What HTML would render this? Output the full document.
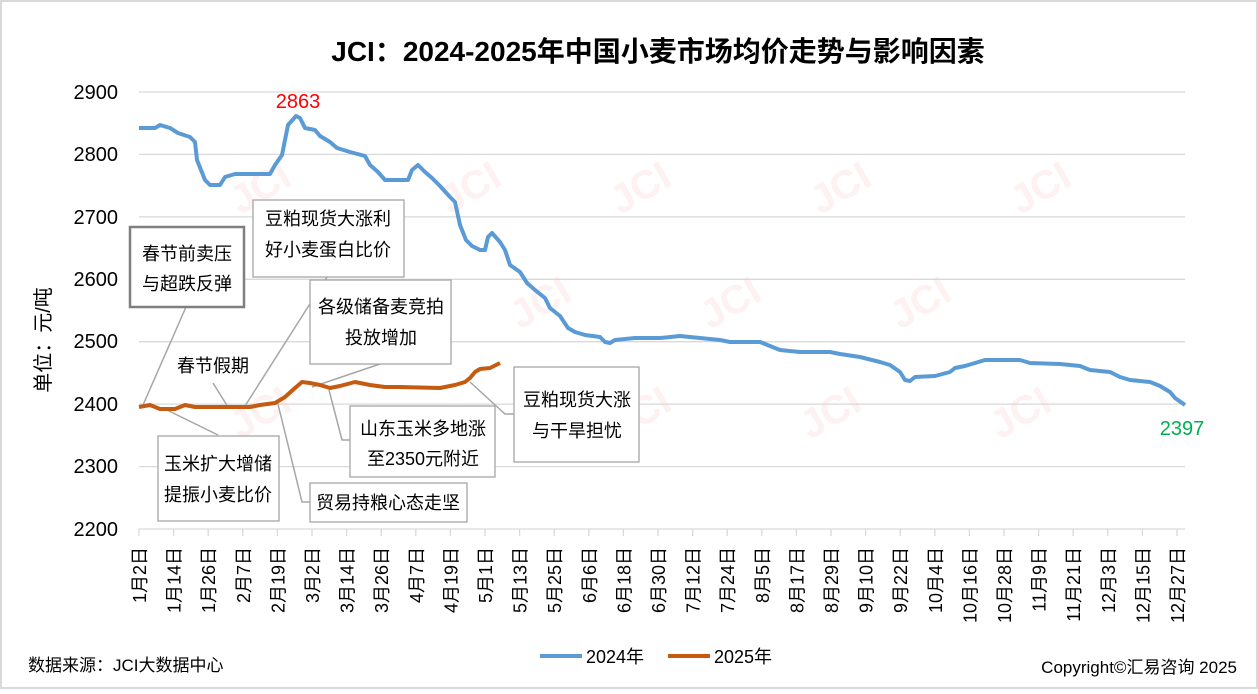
<!DOCTYPE html>
<html><head><meta charset="utf-8"><style>
body{margin:0;background:#fff}
svg text{font-family:"Liberation Sans","Noto Sans CJK SC",sans-serif}
</style></head><body>
<svg width="1258" height="689" viewBox="0 0 1258 689" xmlns="http://www.w3.org/2000/svg">
<rect x="1" y="1" width="1256" height="687" fill="#fff" stroke="#d9d9d9" stroke-width="2"/>
<text x="658" y="61" font-size="28" font-weight="bold" text-anchor="middle" fill="#000">JCI：2024-2025年中国小麦市场均价走势与影响因素</text>
<g stroke="#d9d9d9" stroke-width="1.3">
<line x1="139" x2="1185" y1="92" y2="92"/><line x1="139" x2="1185" y1="154.4" y2="154.4"/>
<line x1="139" x2="1185" y1="216.9" y2="216.9"/><line x1="139" x2="1185" y1="279.3" y2="279.3"/>
<line x1="139" x2="1185" y1="341.7" y2="341.7"/><line x1="139" x2="1185" y1="404.1" y2="404.1"/>
<line x1="139" x2="1185" y1="466.6" y2="466.6"/><line x1="139" x2="1185" y1="529" y2="529"/>
</g>
<g font-size="20" text-anchor="end" fill="#000">
<text x="118" y="99">2900</text><text x="118" y="161">2800</text><text x="118" y="224">2700</text>
<text x="118" y="286">2600</text><text x="118" y="348">2500</text><text x="118" y="411">2400</text>
<text x="118" y="473">2300</text><text x="118" y="536">2200</text>
</g>
<text transform="translate(50,340) rotate(-90)" font-size="20" text-anchor="middle">单位：元/吨</text>
<g font-size="40" font-weight="bold" fill="#f4c7c7" opacity="0.25">
<text transform="translate(240,215) rotate(-30)">JCI</text><text transform="translate(450,215) rotate(-30)">JCI</text>
<text transform="translate(620,215) rotate(-30)">JCI</text><text transform="translate(820,215) rotate(-30)">JCI</text>
<text transform="translate(1020,215) rotate(-30)">JCI</text><text transform="translate(520,330) rotate(-30)">JCI</text>
<text transform="translate(710,330) rotate(-30)">JCI</text><text transform="translate(900,330) rotate(-30)">JCI</text>
<text transform="translate(240,440) rotate(-30)">JCI</text><text transform="translate(620,440) rotate(-30)">JCI</text>
<text transform="translate(810,440) rotate(-30)">JCI</text><text transform="translate(1000,440) rotate(-30)">JCI</text>
</g>
<g stroke="#d9d9d9" stroke-width="1.3">
<line x1="139.0" x2="139.0" y1="529" y2="536"/><line x1="173.6" x2="173.6" y1="529" y2="536"/><line x1="208.2" x2="208.2" y1="529" y2="536"/><line x1="242.8" x2="242.8" y1="529" y2="536"/><line x1="277.4" x2="277.4" y1="529" y2="536"/><line x1="312.0" x2="312.0" y1="529" y2="536"/><line x1="346.6" x2="346.6" y1="529" y2="536"/><line x1="381.2" x2="381.2" y1="529" y2="536"/><line x1="415.8" x2="415.8" y1="529" y2="536"/><line x1="450.4" x2="450.4" y1="529" y2="536"/><line x1="485.0" x2="485.0" y1="529" y2="536"/><line x1="519.6" x2="519.6" y1="529" y2="536"/><line x1="554.2" x2="554.2" y1="529" y2="536"/><line x1="588.8" x2="588.8" y1="529" y2="536"/><line x1="623.4" x2="623.4" y1="529" y2="536"/><line x1="658.0" x2="658.0" y1="529" y2="536"/><line x1="692.6" x2="692.6" y1="529" y2="536"/><line x1="727.2" x2="727.2" y1="529" y2="536"/><line x1="761.8" x2="761.8" y1="529" y2="536"/><line x1="796.4" x2="796.4" y1="529" y2="536"/><line x1="831.0" x2="831.0" y1="529" y2="536"/><line x1="865.6" x2="865.6" y1="529" y2="536"/><line x1="900.2" x2="900.2" y1="529" y2="536"/><line x1="934.8" x2="934.8" y1="529" y2="536"/><line x1="969.4" x2="969.4" y1="529" y2="536"/><line x1="1004.0" x2="1004.0" y1="529" y2="536"/><line x1="1038.6" x2="1038.6" y1="529" y2="536"/><line x1="1073.2" x2="1073.2" y1="529" y2="536"/><line x1="1107.8" x2="1107.8" y1="529" y2="536"/><line x1="1142.4" x2="1142.4" y1="529" y2="536"/><line x1="1177.0" x2="1177.0" y1="529" y2="536"/>
</g>
<g font-size="18" fill="#000" text-anchor="end">
<text transform="translate(146.0,547) rotate(-90)">1月2日</text><text transform="translate(180.6,547) rotate(-90)">1月14日</text><text transform="translate(215.2,547) rotate(-90)">1月26日</text><text transform="translate(249.8,547) rotate(-90)">2月7日</text><text transform="translate(284.4,547) rotate(-90)">2月19日</text><text transform="translate(319.0,547) rotate(-90)">3月2日</text><text transform="translate(353.6,547) rotate(-90)">3月14日</text><text transform="translate(388.2,547) rotate(-90)">3月26日</text><text transform="translate(422.8,547) rotate(-90)">4月7日</text><text transform="translate(457.4,547) rotate(-90)">4月19日</text><text transform="translate(492.0,547) rotate(-90)">5月1日</text><text transform="translate(526.6,547) rotate(-90)">5月13日</text><text transform="translate(561.2,547) rotate(-90)">5月25日</text><text transform="translate(595.8,547) rotate(-90)">6月6日</text><text transform="translate(630.4,547) rotate(-90)">6月18日</text><text transform="translate(665.0,547) rotate(-90)">6月30日</text><text transform="translate(699.6,547) rotate(-90)">7月12日</text><text transform="translate(734.2,547) rotate(-90)">7月24日</text><text transform="translate(768.8,547) rotate(-90)">8月5日</text><text transform="translate(803.4,547) rotate(-90)">8月17日</text><text transform="translate(838.0,547) rotate(-90)">8月29日</text><text transform="translate(872.6,547) rotate(-90)">9月10日</text><text transform="translate(907.2,547) rotate(-90)">9月22日</text><text transform="translate(941.8,547) rotate(-90)">10月4日</text><text transform="translate(976.4,547) rotate(-90)">10月16日</text><text transform="translate(1011.0,547) rotate(-90)">10月28日</text><text transform="translate(1045.6,547) rotate(-90)">11月9日</text><text transform="translate(1080.2,547) rotate(-90)">11月21日</text><text transform="translate(1114.8,547) rotate(-90)">12月3日</text><text transform="translate(1149.4,547) rotate(-90)">12月15日</text><text transform="translate(1184.0,547) rotate(-90)">12月27日</text>
</g>
<g fill="none" stroke="#a6a6a6" stroke-width="1.5">
<polyline points="186,307 143,405"/><polyline points="327,277 245,406"/>
<polyline points="213,383 228,407"/><polyline points="380,364 312,387"/>
<polyline points="218,435 167,410"/><polyline points="329,390 342,440 350,440"/>
<polyline points="310,502 302,502 277,400"/><polyline points="470,382 505,414 514,414"/>
</g>
<polyline fill="none" stroke="#5b9bd5" stroke-width="4" stroke-linejoin="round" points="139,128 155,128 160,125 170,128 178,133 190,137 195,142 197,160 205,180 210,185 220,185 225,177 235,174 270,174 275,165 282,155 288,125 296,116 300,118 305,128 315,130 320,136 330,142 337,148 350,152 365,156 370,165 378,172 385,180 408,180 412,170 418,165 425,172 432,178 440,186 450,197 455,202 460,225 466,240 472,246 480,250 485,250 488,237 492,233 500,242 505,250 510,265 520,272 527,283 535,290 545,298 550,308 560,316 568,328 575,332 585,335 600,337 605,342 610,343 615,340 635,338 660,338 680,336 700,338 720,340 730,342 760,342 770,346 780,350 800,352 830,352 840,354 860,357 880,362 890,365 900,372 905,380 910,381 915,377 935,376 950,372 955,368 965,366 975,363 985,360 1000,360 1020,360 1030,363 1060,364 1080,366 1090,370 1100,371 1110,372 1120,377 1130,380 1140,381 1150,382 1160,386 1170,392 1175,398 1185,405"/>
<polyline fill="none" stroke="#c55a11" stroke-width="4" stroke-linejoin="round" points="139,407 150,405 160,409 175,409 185,405 195,407 250,407 260,405 275,403 285,397 295,388 302,382 310,383 320,385 330,388 340,386 355,382 370,385 385,387 400,387 440,388 455,385 465,382 470,378 475,372 480,369 490,368 500,363"/>
<g font-size="18" fill="#000" text-anchor="middle">
<rect x="130" y="227" width="114" height="80" fill="#fff" stroke="#7f7f7f" stroke-width="2.5"/>
<text x="187" y="260">春节前卖压</text><text x="187" y="290">与超跌反弹</text>
<rect x="253" y="200" width="151" height="77" fill="#fff" stroke="#a6a6a6" stroke-width="1.3"/>
<text x="328" y="225">豆粕现货大涨利</text><text x="328" y="256">好小麦蛋白比价</text>
<rect x="310" y="280" width="141" height="84" fill="#fff" stroke="#a6a6a6" stroke-width="1.3"/>
<text x="381" y="313">各级储备麦竞拍</text><text x="381" y="344">投放增加</text>
<text x="213" y="372">春节假期</text>
<rect x="158" y="436" width="121" height="85" fill="#fff" stroke="#a6a6a6" stroke-width="1.3"/>
<text x="218" y="470">玉米扩大增储</text><text x="218" y="501">提振小麦比价</text>
<rect x="350" y="406" width="145" height="71" fill="#fff" stroke="#a6a6a6" stroke-width="1.3"/>
<text x="423" y="435">山东玉米多地涨</text><text x="423" y="465">至2350元附近</text>
<rect x="310" y="483" width="157" height="39" fill="#fff" stroke="#a6a6a6" stroke-width="1.3"/>
<text x="388" y="509">贸易持粮心态走坚</text>
<rect x="514" y="367" width="125" height="95" fill="#fff" stroke="#a6a6a6" stroke-width="1.3"/>
<text x="577" y="406">豆粕现货大涨</text><text x="577" y="437">与干旱担忧</text>
</g>
<text x="298" y="108" font-size="20" fill="#ff0000" text-anchor="middle">2863</text>
<text x="1182" y="435" font-size="20" fill="#00b050" text-anchor="middle">2397</text>
<line x1="540" x2="582" y1="656" y2="656" stroke="#5b9bd5" stroke-width="4"/>
<text x="586" y="663" font-size="18">2024年</text>
<line x1="668" x2="710" y1="656" y2="656" stroke="#c55a11" stroke-width="4"/>
<text x="714" y="663" font-size="18">2025年</text>
<text x="28" y="671" font-size="17">数据来源：JCI大数据中心</text>
<text x="1237" y="673" font-size="17" text-anchor="end">Copyright©汇易咨询 2025</text>
</svg>
</body></html>
